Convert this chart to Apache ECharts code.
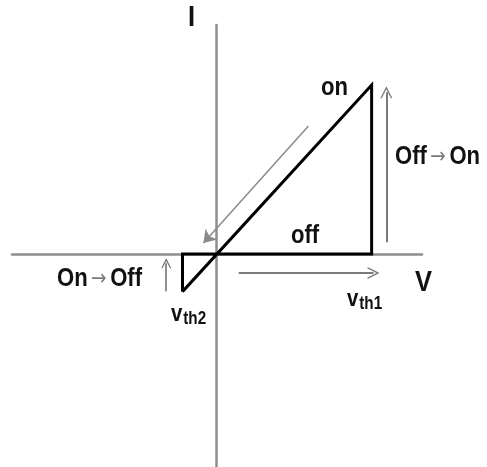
<!DOCTYPE html>
<html>
<head>
<meta charset="utf-8">
<script src="https://cdn.jsdelivr.net/npm/echarts@6/dist/echarts.min.js"></script>
<style>html,body{margin:0;padding:0;background:#fff;}#c{width:487px;height:467px;}</style>
</head>
<body>
<div id="c"></div>
<script>
// Axis extents (V horizontally, I vertically)
var vRange = [-5.28, 5.30];
var iRange = [-5.04, 5.42];
// Thresholds and hysteresis loop (V, I)
var vth1 = 4.0;
var vth2 = -0.88;
var loopV = [vth2, vth1, vth1, vth2, vth2];
var loopI = [-0.89, 4.0, 0, 0, -0.89];
// Annotation arrows: [startV, startI, endV, endI]
var arrowDiag = [2.37, 3.03, -0.34, 0.26];
var arrowUp = [4.38, 0.28, 4.38, 3.83];
var arrowRight = [0.57, -0.45, 4.05, -0.45];
var arrowSmall = [-1.30, -0.88, -1.30, -0.22];
// Texts
var axisLabelV = 'V';
var axisLabelI = 'I';
var labelOn = 'on';
var labelOff = 'off';
var labelOffOn = ['Off', '→', 'On'];
var labelOnOff = ['On', '→', 'Off'];
var labelVth1 = ['v', 'th1'];
var labelVth2 = ['v', 'th2'];

var FONT = '"Liberation Sans", "DejaVu Sans", sans-serif';
var SX = 0.85;

var loopData = loopV.map(function (v, k) { return [v, loopI[k]]; });
function seg(a) { return { coords: [[a[0], a[1]], [a[2], a[3]]] }; }
var chevron = 'path://M0,10 L5,0 L10,10 L8.8,10 L5,2.6 L1.2,10 Z';

var chart = echarts.init(document.getElementById('c'), null, { renderer: 'canvas' });
var axisCommon = {
  type: 'value',
  axisLine: { show: true, onZero: true, lineStyle: { color: '#8e8e8e', width: 2.5 } },
  axisTick: { show: false },
  axisLabel: { show: false },
  splitLine: { show: false }
};
function txt(x, y, text, size, extra) {
  return {
    type: 'text', x: x, y: y, scaleX: SX,
    style: Object.assign({ text: text, font: 'bold ' + size + 'px ' + FONT, fill: '#111', align: 'left', verticalAlign: 'middle' }, extra || {})
  };
}
var arrowRich = {
  a: { font: 'bold 26px ' + FONT, fill: '#111', verticalAlign: 'middle' },
  b: { font: '22px "DejaVu Sans", sans-serif', fill: '#7a7a7a', padding: [0, 4, 0, 4], verticalAlign: 'middle' }
};
var subRich = {
  v: { font: 'bold 24px ' + FONT, fill: '#111' },
  s: { font: 'bold 18px ' + FONT, fill: '#111', padding: [11, 0, 0, 1] }
};
chart.setOption({
  animation: false,
  backgroundColor: '#fff',
  grid: { left: 12, right: 65, top: 25, bottom: 0, containLabel: false },
  xAxis: Object.assign({}, axisCommon, { min: vRange[0], max: vRange[1] }),
  yAxis: Object.assign({}, axisCommon, { min: iRange[0], max: iRange[1] }),
  series: [
    {
      type: 'line', data: loopData, symbol: 'none', z: 5,
      lineStyle: { color: '#000', width: 3, join: 'miter' }
    },
    {
      type: 'lines', coordinateSystem: 'cartesian2d', z: 4,
      symbol: ['none', chevron], symbolSize: [11, 12],
      lineStyle: { color: '#7a7a7a', width: 2, opacity: 1 },
      data: [seg(arrowUp), seg(arrowRight)]
    },
    {
      type: 'lines', coordinateSystem: 'cartesian2d', z: 4,
      symbol: ['none', chevron], symbolSize: [9, 10],
      lineStyle: { color: '#6a6a6a', width: 1.5, opacity: 1 },
      data: [seg(arrowSmall)]
    },
    {
      type: 'lines', coordinateSystem: 'cartesian2d', z: 4,
      symbol: ['none', 'arrow'], symbolSize: [9, 12],
      lineStyle: { color: '#8a8a8a', width: 1.5, opacity: 1 },
      itemStyle: { color: '#b0b0b0' },
      data: [seg(arrowDiag)]
    }
  ],
  graphic: [
    txt(188, 18, axisLabelI, 30),
    txt(415, 283, axisLabelV, 30),
    txt(321, 88, labelOn, 26),
    txt(291, 236, labelOff, 26),
    txt(395, 157, '{a|' + labelOffOn[0] + '}{b|' + labelOffOn[1] + '}{a|' + labelOffOn[2] + '}', 26, { rich: arrowRich }),
    txt(57, 279, '{a|' + labelOnOff[0] + '}{b|' + labelOnOff[1] + '}{a|' + labelOnOff[2] + '}', 26, { rich: arrowRich }),
    txt(347, 299, '{v|' + labelVth1[0] + '}{s|' + labelVth1[1] + '}', 24, { rich: subRich }),
    txt(171, 314, '{v|' + labelVth2[0] + '}{s|' + labelVth2[1] + '}', 24, { rich: subRich })
  ]
});
</script>
</body>
</html>
